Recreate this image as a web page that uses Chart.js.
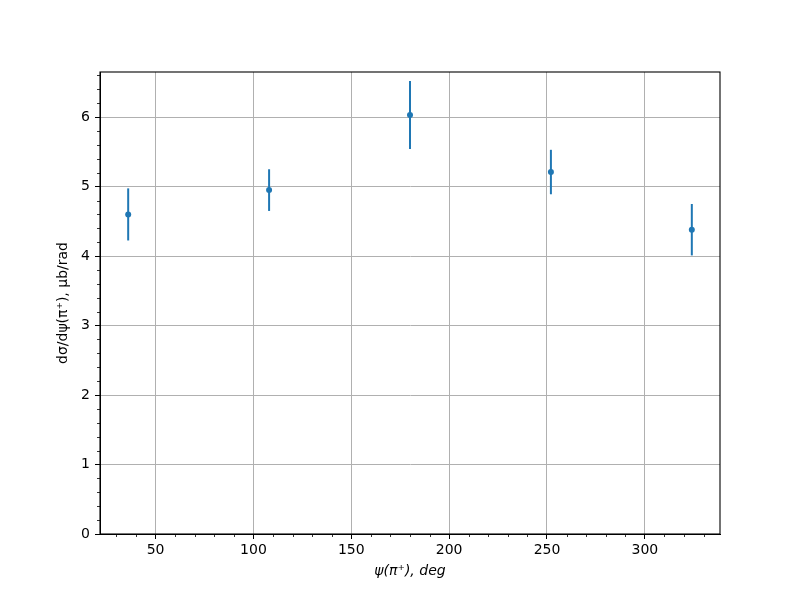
<!DOCTYPE html>
<html>
<head>
    <title>dsigma/dpsi</title>
    <style>
        body {
            margin: 0;
            background-color: #fff;
        }
    </style>
    <script src="https://cdn.jsdelivr.net/npm/chart.js"></script>
</head>
<body>
    <canvas id="chart" width="800" height="600"></canvas>
    <script>
        var psi = [36, 108, 180, 252, 324];
        var sigma = [4.60, 4.95, 6.03, 5.21, 4.38];
        var sigmaErr = [0.375, 0.30, 0.49, 0.32, 0.37];

        var xMajor = [50, 100, 150, 200, 250, 300];
        var yMajor = [0, 1, 2, 3, 4, 5, 6];
        var xMinorStep = 10;
        var yMinorStep = 0.2;

        var blue = '#1f77b4';
        var font = 'DejaVu Sans';

        // vertical error bars, drawn through the chart's scales
        var errorBars = {
            id: 'errorBars',
            beforeDatasetsDraw: function(chart) {
                var ctx = chart.ctx;
                var x = chart.scales.x, y = chart.scales.y;
                ctx.save();
                ctx.strokeStyle = blue;
                ctx.lineWidth = 2;
                for (var i = 0; i < psi.length; i++) {
                    var px = x.getPixelForValue(psi[i]);
                    ctx.beginPath();
                    ctx.moveTo(px, y.getPixelForValue(sigma[i] - sigmaErr[i]));
                    ctx.lineTo(px, y.getPixelForValue(sigma[i] + sigmaErr[i]));
                    ctx.stroke();
                }
                ctx.restore();
            }
        };

        // frame on all four sides and the minor ticks
        var frame = {
            id: 'frame',
            afterDraw: function(chart) {
                var ctx = chart.ctx;
                var a = chart.chartArea;
                var x = chart.scales.x, y = chart.scales.y;
                ctx.save();
                ctx.strokeStyle = '#000';
                ctx.lineWidth = 0.8;
                ctx.beginPath();
                var v, p;
                for (v = Math.ceil(x.min / xMinorStep) * xMinorStep; v <= x.max; v += xMinorStep) {
                    if (v % 50 === 0) continue;
                    p = Math.round(x.getPixelForValue(v)) + 0.5;
                    ctx.moveTo(p, a.bottom);
                    ctx.lineTo(p, a.bottom + 3);
                }
                for (var k = 1; k * yMinorStep <= y.max; k++) {
                    if (k % 5 === 0) continue;
                    p = Math.round(y.getPixelForValue(k * yMinorStep)) + 0.5;
                    ctx.moveTo(a.left, p);
                    ctx.lineTo(a.left - 3, p);
                }
                ctx.stroke();
                ctx.lineWidth = 1.1;
                ctx.strokeRect(a.left, a.top, a.right - a.left, a.bottom - a.top);
                ctx.restore();
            }
        };

        new Chart(document.getElementById('chart'), {
            type: 'scatter',
            data: {
                datasets: [{
                    data: psi.map(function(v, i) { return { x: v, y: sigma[i] }; }),
                    backgroundColor: blue,
                    borderColor: blue,
                    pointRadius: 3,
                    borderWidth: 0
                }]
            },
            options: {
                responsive: false,
                animation: false,
                layout: { padding: { top: 72, right: 80, left: 0, bottom: 0 } },
                plugins: {
                    legend: { display: false },
                    tooltip: { enabled: false }
                },
                scales: {
                    x: {
                        type: 'linear',
                        min: 21.6,
                        max: 338.4,
                        afterBuildTicks: function(s) {
                            s.ticks = xMajor.map(function(v) { return { value: v }; });
                        },
                        afterFit: function(s) { s.height = 66; },
                        ticks: { color: '#000', padding: 3, maxRotation: 0, font: { family: font, size: 14 } },
                        grid: { color: '#b0b0b0', lineWidth: 1, tickColor: '#000', tickLength: 5, tickWidth: 1 },
                        border: { color: '#000', width: 1 },
                        title: {
                            display: true,
                            text: 'ψ(π⁺), deg',
                            color: '#000',
                            padding: { top: 0, bottom: 20 },
                            font: { family: font, size: 14, style: 'italic' }
                        }
                    },
                    y: {
                        type: 'linear',
                        min: 0,
                        max: 6.65,
                        afterBuildTicks: function(s) {
                            s.ticks = yMajor.map(function(v) { return { value: v }; });
                        },
                        afterFit: function(s) { s.width = 100; },
                        ticks: { color: '#000', padding: 5, font: { family: font, size: 14 } },
                        grid: { color: '#b0b0b0', lineWidth: 1, tickColor: '#000', tickLength: 5, tickWidth: 1 },
                        border: { color: '#000', width: 1 },
                        title: {
                            display: true,
                            text: 'dσ/dψ(π⁺), μb/rad',
                            color: '#000',
                            padding: { top: 55, bottom: 0 },
                            font: { family: font, size: 14 }
                        }
                    }
                }
            },
            plugins: [errorBars, frame]
        });
    </script>
</body>
</html>
